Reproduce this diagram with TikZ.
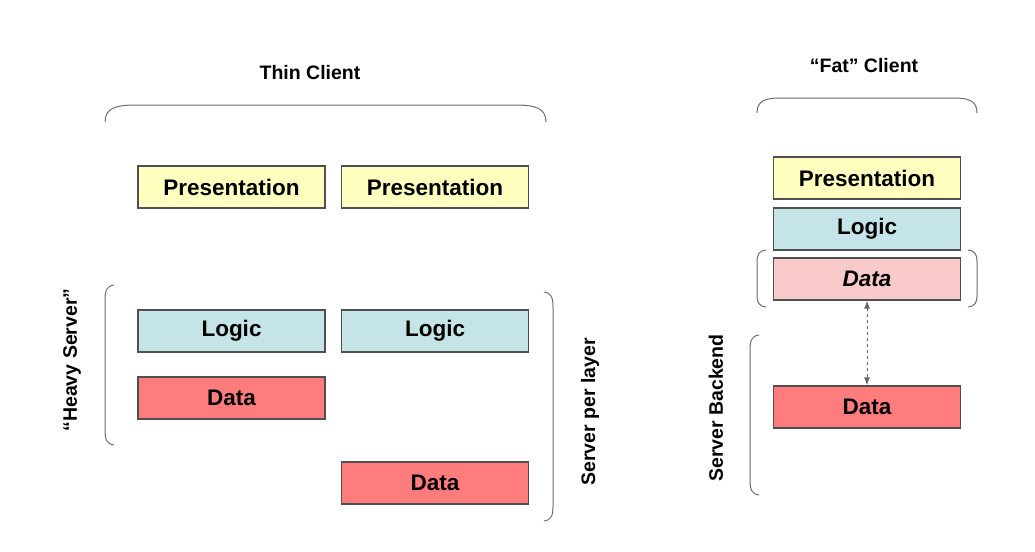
\documentclass[tikz,border=0pt]{standalone}
\usepackage{fontspec}
\setmainfont{Liberation Sans}
\usepackage{tikz}
\usetikzlibrary{arrows.meta}
\usepackage{xcolor}
\definecolor{presyellow}{HTML}{FFFFC0}
\definecolor{logiccyan}{HTML}{C5E4E8}
\definecolor{datared}{HTML}{FF7C7C}
\definecolor{datapink}{HTML}{F8CACA}
\definecolor{boxline}{HTML}{505050}
\tikzset{
	layer/.style={draw=boxline, line width=1.2pt, minimum width=187pt, minimum height=42pt, inner sep=0pt, font=\fontsize{22.5}{26}\selectfont\bfseries},
	caption/.style={inner sep=0pt, font=\fontsize{19.5}{23}\selectfont\bfseries},
	bracket/.style={draw=gray!85!black, line width=1pt}
}

\begin{document}
\begin{tikzpicture}[x=1pt,y=-1pt]
		\useasboundingbox (0,0) rectangle (1035,551);
		% thin client
		\node [caption] (thin) at (310,73) {Thin Client};
		\draw [bracket] (105,122) .. controls (105,108) and (116,105) .. (136,105) -- (515,105) .. controls (535,105) and (546,108) .. (546,122);
		\node [layer, fill=presyellow] (pres1) at (231.5,187) {Presentation};
		\node [layer, fill=presyellow] (pres2) at (435,187) {Presentation};
		\node [layer, fill=logiccyan] (logic1) at (231.5,331) {Logic};
		\node [layer, fill=logiccyan] (logic2) at (435,331) {Logic};
		\node [layer, fill=datared] (data1) at (231.5,398) {Data};
		\node [layer, fill=datared] (data2) at (435,483) {Data};
		\draw [bracket] (114,285) .. controls (107,286) and (105,290) .. (105,300) -- (105,430) .. controls (105,440) and (107,444) .. (114,445);
		\node [caption, rotate=90] (heavy) at (72,360) {“Heavy Server”};
		\draw [bracket] (544,292) .. controls (551,293) and (553,297) .. (553,307) -- (553,506) .. controls (553,516) and (551,520) .. (544,521);
		\node [caption, rotate=90] (perlayer) at (590,412) {Server per layer};
		% fat client
		\node [caption] (fat) at (864,66) {“Fat” Client};
		\draw [bracket] (757,113) .. controls (757,101) and (765,98) .. (780,98) -- (954,98) .. controls (969,98) and (977,101) .. (977,113);
		\node [layer, fill=presyellow] (pres3) at (867,178) {Presentation};
		\node [layer, fill=logiccyan] (logic3) at (867,229) {Logic};
		\node [layer, fill=datapink, font=\fontsize{22.5}{26}\selectfont\bfseries\itshape] (cache) at (867,279) {Data};
		\node [layer, fill=datared] (data3) at (867,407) {Data};
		\draw [bracket] (766,250) .. controls (759,251) and (757,254) .. (757,262) -- (757,295) .. controls (757,303) and (759,306) .. (766,307);
		\draw [bracket] (968,250) .. controls (975,251) and (977,254) .. (977,262) -- (977,295) .. controls (977,303) and (975,306) .. (968,307);
		\draw [bracket] (759,335) .. controls (752,336) and (750,340) .. (750,350) -- (750,480) .. controls (750,490) and (752,494) .. (759,495);
		\node [caption, rotate=90] (backend) at (716,408) {Server Backend};
		\draw [gray!80!black, dashed, line width=1pt, {Latex[length=8pt,width=6pt]}-{Latex[length=8pt,width=6pt]}] (cache.south) -- (data3.north);
		\end{tikzpicture}
\end{document}
